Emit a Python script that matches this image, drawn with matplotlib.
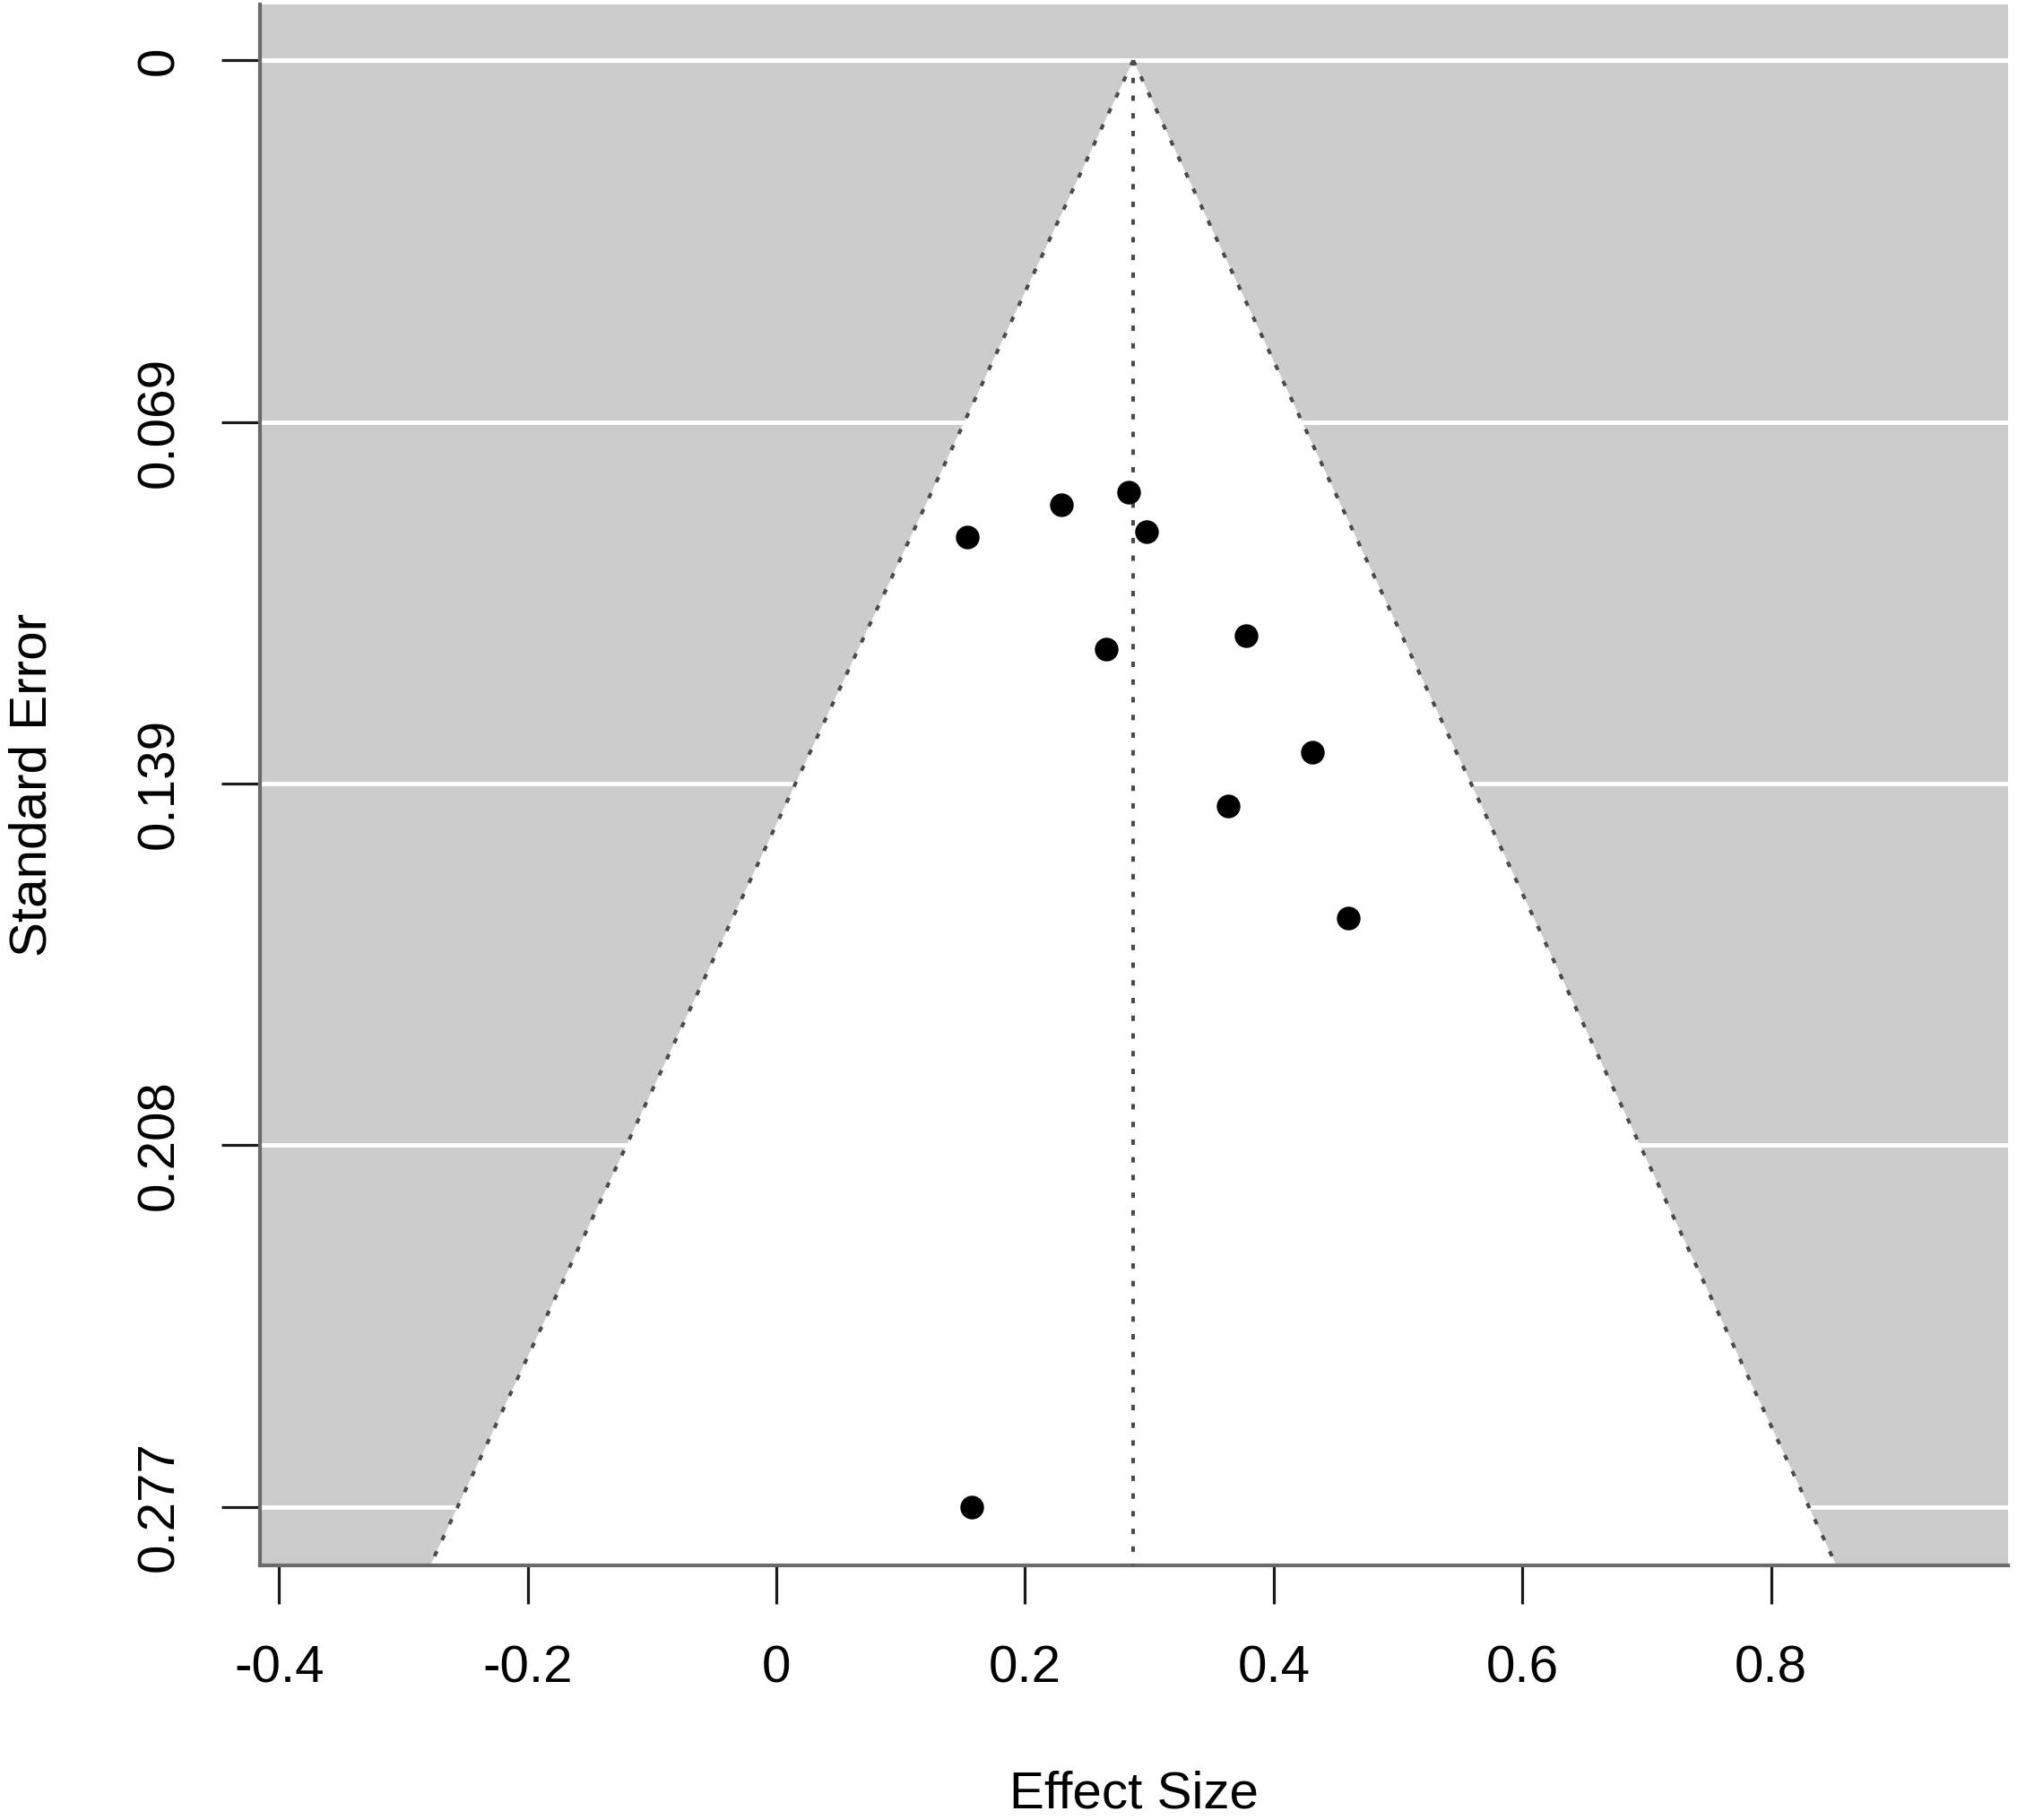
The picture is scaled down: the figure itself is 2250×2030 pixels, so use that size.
import matplotlib
matplotlib.use("Agg")
import matplotlib.pyplot as plt
import numpy as np

plt.rcParams['font.family'] = ['Liberation Sans', 'DejaVu Sans']

# study estimates (effect size) and their standard errors
effect = [0.2835, 0.2295, 0.1538, 0.2976, 0.2655, 0.3774, 0.4314, 0.3630, 0.4602, 0.157]
se     = [0.0827, 0.0852, 0.0913, 0.0904, 0.1128, 0.1102, 0.1326, 0.1429, 0.1644, 0.2772]

pooled = 0.287   # summary estimate
z_crit = 1.96

xtick_vals   = [-0.4, -0.2, 0.0, 0.2, 0.4, 0.6, 0.8]
xtick_labels = ["-0.4", "-0.2", "0", "0.2", "0.4", "0.6", "0.8"]
ytick_labels = ["0", "0.069", "0.139", "0.208", "0.277"]


def funnel_plot():
    fig = plt.figure(figsize=(22.5, 20.3), dpi=100)
    ax = fig.add_axes([0.1289, 0.1399, 0.8667, 0.8576])

    se_max = max(se)
    x_lo, x_hi = -0.4153, 0.9906
    y_lo, y_hi = -0.0107, 0.28845

    ax.set_xlim(x_lo, x_hi)
    ax.set_ylim(y_hi, y_lo)

    # grey background + white grid lines
    ax.set_facecolor("#cccccc")
    yticks = np.linspace(0, se_max, 5)
    for yt in yticks:
        ax.axhline(yt, color="white", lw=3.5, zorder=1)

    # funnel region
    se_line = np.array([0.0, y_hi])
    left  = pooled - z_crit * se_line
    right = pooled + z_crit * se_line
    ax.fill(np.r_[left, right[::-1]], np.r_[se_line, se_line[::-1]],
            color="white", lw=0, zorder=2)
    dots = (0, (1.5, 3.4))
    for xs in (left, right, [pooled, pooled]):
        ax.plot(xs, se_line, color="#4a4a4a", lw=2.9, ls=dots, zorder=3,
                dash_capstyle="butt")

    # studies
    ax.plot(effect, se, "o", color="black", ms=19, mew=0, zorder=4)

    # axes styling
    for s in ["top", "right"]:
        ax.spines[s].set_visible(False)
    for s in ["left", "bottom"]:
        ax.spines[s].set_color("#6a6a6a")
        ax.spines[s].set_linewidth(3)

    ax.set_xticks(xtick_vals)
    ax.set_xticklabels(xtick_labels)
    ax.set_yticks(yticks)
    ax.set_yticklabels(ytick_labels, rotation=90, va="center")

    ax.tick_params(axis="both", length=31, width=2.3, color="#1a1a1a",
                   labelsize=42, labelcolor="black")
    ax.tick_params(axis="x", pad=33)
    ax.tick_params(axis="y", pad=30)

    ax.set_xlabel("Effect Size", fontsize=42, va="center")
    ax.xaxis.set_label_coords(0.5, -0.147)
    ax.set_ylabel("Standard Error", fontsize=42, va="center")
    ax.yaxis.set_label_coords(-0.130, 0.5)

    fig.savefig("out.png", dpi=100)
    plt.close(fig)


def main():
    funnel_plot()


if __name__ == '__main__':
    main()
